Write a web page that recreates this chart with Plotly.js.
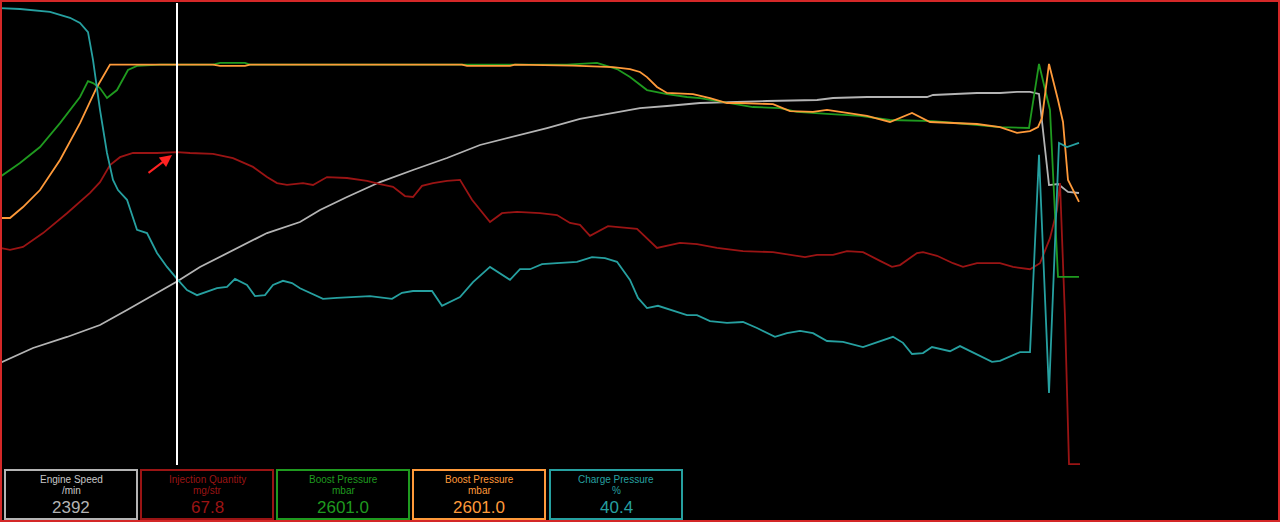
<!DOCTYPE html>
<html>
<head>
<meta charset="utf-8">
<script src="https://cdn.plot.ly/plotly-3.0.1.min.js"></script>
<style>
  html, body { margin: 0; padding: 0; background: #000; }
  #chart { width: 1280px; height: 522px; }
</style>
</head>
<body>
<div id="chart"></div>
<script>
// ---------- DATA (time in seconds) ----------
const esTime = [0,0.33,0.67,1.00,1.27,1.50,1.77,2.00,2.33,2.67,3.00,3.20,3.47,3.80,4.13,4.47,4.80,5.13,5.47,5.80,6.13,6.40,6.67,7.00,7.67,8.17,8.33,8.67,9.27,9.33,9.77,10.00,10.17,10.30,10.39,10.49,10.58,10.68,10.79];
const engineSpeed = [1335,1529,1672,1827,2022,2190,2392,2579,2799,3019,3162,3318,3486,3680,3836,3991,4160,4264,4380,4497,4575,4639,4665,4704,4730,4743,4769,4782,4782,4808,4834,4834,4847,4847,4821,3641,3654,3551,3538];

const iqTime = [0,0.10,0.23,0.43,0.67,0.90,1.00,1.10,1.20,1.33,1.57,1.77,1.90,2.13,2.33,2.53,2.67,2.77,2.87,3.03,3.13,3.27,3.47,3.67,3.80,3.93,4.05,4.13,4.22,4.33,4.47,4.60,4.72,4.90,5.02,5.17,5.40,5.57,5.70,5.80,5.90,6.08,6.37,6.57,6.80,6.97,7.17,7.43,7.73,8.05,8.17,8.33,8.47,8.63,8.80,8.92,9.00,9.17,9.23,9.37,9.53,9.63,9.77,10.00,10.13,10.30,10.40,10.50,10.57,10.60,10.65,10.69,10.80];
const injectionQty = [47.1,46.7,47.3,50.3,54.6,59.0,61.3,65.0,66.7,67.6,67.6,67.8,67.6,67.4,66.5,64.6,62.4,61.1,60.7,61.1,60.7,62.4,62.2,61.6,60.9,60.3,58.3,58.1,60.5,61.1,61.6,61.8,57.5,52.7,54.6,54.9,54.6,54.2,52.5,52.1,49.7,51.8,51.2,47.1,48.2,47.9,47.1,46.4,46.2,45.1,45.6,45.6,46.4,46.2,44.3,43.0,43.4,46.0,46.2,45.4,43.8,43.0,43.8,43.8,43.0,42.5,43.8,49.2,55.3,61.1,32.2,0.4,0.4];

const boostActTime = [0,0.20,0.40,0.60,0.80,0.88,0.93,1.00,1.07,1.17,1.28,1.37,1.60,2.13,2.20,2.45,2.50,5.67,5.97,6.17,6.30,6.47,6.67,6.87,7.00,7.27,7.53,7.80,7.97,8.27,8.60,8.90,9.33,9.67,10.00,10.29,10.39,10.50,10.58,10.79];
const boostActual = [1873,1963,2067,2222,2391,2494,2481,2449,2384,2436,2566,2592,2601,2601,2612,2612,2601,2601,2612,2572,2520,2436,2410,2391,2384,2352,2326,2319,2294,2281,2268,2242,2235,2216,2196,2190,2605,2307,1225,1225];

const boostSpecTime = [0,0.10,0.23,0.40,0.60,0.80,0.97,1.10,2.13,2.20,2.45,2.50,4.62,4.67,5.10,5.15,5.73,6.13,6.30,6.40,6.47,6.57,6.67,6.93,7.10,7.27,7.40,7.73,7.90,8.13,8.27,8.40,8.67,8.90,9.12,9.30,9.50,9.77,10.00,10.17,10.30,10.38,10.42,10.49,10.58,10.63,10.68,10.79];
const boostSpec = [1607,1607,1678,1788,1983,2222,2456,2601,2601,2592,2592,2601,2601,2592,2592,2601,2594,2585,2572,2553,2520,2456,2417,2410,2384,2352,2352,2345,2300,2294,2307,2294,2268,2229,2287,2229,2222,2216,2196,2158,2170,2196,2255,2605,2371,2229,1853,1711];

const cpTime = [0,0.20,0.50,0.70,0.80,0.88,0.93,1.00,1.07,1.13,1.18,1.27,1.37,1.47,1.57,1.67,1.77,1.87,1.97,2.07,2.17,2.27,2.35,2.47,2.55,2.65,2.73,2.83,2.92,3.00,3.23,3.37,3.57,3.70,3.92,4.02,4.13,4.32,4.42,4.60,4.73,4.90,5.10,5.20,5.30,5.42,5.57,5.77,5.92,6.05,6.17,6.25,6.30,6.38,6.47,6.58,6.87,6.97,7.10,7.27,7.43,7.57,7.75,7.87,8.00,8.13,8.27,8.43,8.63,8.93,9.03,9.12,9.23,9.32,9.50,9.60,9.76,9.92,10.00,10.20,10.30,10.39,10.49,10.59,10.67,10.79];
const chargePressure = [98.9,98.7,98.1,96.8,95.7,93.7,87.7,76.9,67.6,61.8,59.6,57.5,51.0,50.3,46.0,43.0,40.4,38.0,36.9,37.6,38.4,38.7,40.4,39.1,36.7,36.9,39.1,40.0,39.5,38.4,36.1,36.3,36.5,36.7,36.1,37.4,37.8,37.8,34.6,36.5,39.7,43.0,40.2,42.5,42.5,43.6,43.8,44.1,45.1,44.9,44.1,41.7,40.2,36.3,34.1,34.6,32.6,32.6,31.3,30.9,31.1,29.8,27.9,28.7,29.2,28.7,27.0,26.8,25.7,27.9,26.6,24.2,24.4,25.7,24.8,25.9,24.2,22.5,22.7,24.6,24.6,67.2,15.8,69.8,68.9,69.8];

const cursorTime = 1.77;

const panelTitles = ["Engine Speed","Injection Quantity","Boost Pressure","Boost Pressure","Charge Pressure"];
const panelUnits = ["/min","mg/str","mbar","mbar","%"];
const panelValues = ["2392","67.8","2601.0","2601.0","40.4"];

// ---------- STYLE ----------
const colors = ["#b4b4b4","#9a1414","#1f9a1f","#ff9a3a","#26a0a0"];
const W = 1280, H = 522;
const plotTop = 3, plotBottom = 466;
const py = v => (H - v) / H;   // pixel-from-top -> paper y
const px = v => v / W;

const mk = (x, y, yaxis, color) => ({
  x: x, y: y, yaxis: yaxis, type: 'scatter', mode: 'lines',
  line: { color: color, width: 1.8 }, hoverinfo: 'skip'
});

const traces = [
  mk(esTime, engineSpeed, 'y', colors[0]),
  mk(iqTime, injectionQty, 'y2', colors[1]),
  mk(boostActTime, boostActual, 'y3', colors[2]),
  mk(boostSpecTime, boostSpec, 'y3', colors[3]),
  mk(cpTime, chargePressure, 'y4', colors[4])
];

const axBase = { visible: false, showgrid: false, zeroline: false, fixedrange: true };
const domain = [py(plotBottom), py(plotTop)];

const shapes = [];
const annotations = [];

// cursor line
shapes.push({ type: 'line', xref: 'x', yref: 'paper', x0: cursorTime, x1: cursorTime,
  y0: py(465), y1: py(plotTop), line: { color: '#ffffff', width: 2 }, layer: 'above' });

// panels
const boxL = [5, 141, 277, 413, 550];
const boxW = 132;
for (let i = 0; i < 5; i++) {
  const x0 = boxL[i], x1 = boxL[i] + boxW, cx = (x0 + x1) / 2;
  shapes.push({ type: 'rect', xref: 'paper', yref: 'paper',
    x0: px(x0), x1: px(x1), y0: py(519), y1: py(470),
    line: { color: colors[i], width: 2 }, fillcolor: '#000000', layer: 'above' });
  const tc = i === 0 ? '#c8c8c8' : colors[i];
  annotations.push({ xref: 'paper', yref: 'paper', x: px(cx), y: py(479), text: panelTitles[i],
    showarrow: false, xanchor: 'center', yanchor: 'middle',
    font: { family: 'Liberation Sans Narrow, Liberation Sans, Arial', size: 10, color: tc } });
  annotations.push({ xref: 'paper', yref: 'paper', x: px(cx), y: py(491), text: panelUnits[i],
    showarrow: false, xanchor: 'center', yanchor: 'middle',
    font: { family: 'Liberation Sans Narrow, Liberation Sans, Arial', size: 10, color: tc } });
  annotations.push({ xref: 'paper', yref: 'paper', x: px(cx), y: py(507), text: panelValues[i],
    showarrow: false, xanchor: 'center', yanchor: 'middle',
    font: { family: 'Liberation Sans Narrow, Liberation Sans, Arial', size: 17, color: colors[i] } });
}

// red hand-drawn arrow
annotations.push({ xref: 'paper', yref: 'paper', x: px(172), y: py(155), ax: -25, ay: 19,
  text: '', showarrow: true, arrowhead: 2, arrowsize: 1.2, arrowwidth: 2, arrowcolor: '#ff2222' });

// outer red border
shapes.push({ type: 'rect', xref: 'paper', yref: 'paper', x0: px(1), x1: px(1279), y0: py(521), y1: py(1),
  line: { color: '#d42828', width: 2 }, layer: 'above' });

const layout = {
  width: W, height: H,
  margin: { l: 0, r: 0, t: 0, b: 0, pad: 0 },
  paper_bgcolor: '#000000', plot_bgcolor: '#000000',
  showlegend: false,
  xaxis: Object.assign({}, axBase, { range: [0, 12.8], domain: [0, 1] }),
  yaxis: Object.assign({}, axBase, { range: [0, 6000], domain: domain }),
  yaxis2: Object.assign({}, axBase, { range: [0, 100], overlaying: 'y' }),
  yaxis3: Object.assign({}, axBase, { range: [0, 3000], overlaying: 'y' }),
  yaxis4: Object.assign({}, axBase, { range: [0, 100], overlaying: 'y' }),
  shapes: shapes,
  annotations: annotations
};

Plotly.newPlot('chart', traces, layout, { displayModeBar: false, staticPlot: true });
</script>
</body>
</html>
